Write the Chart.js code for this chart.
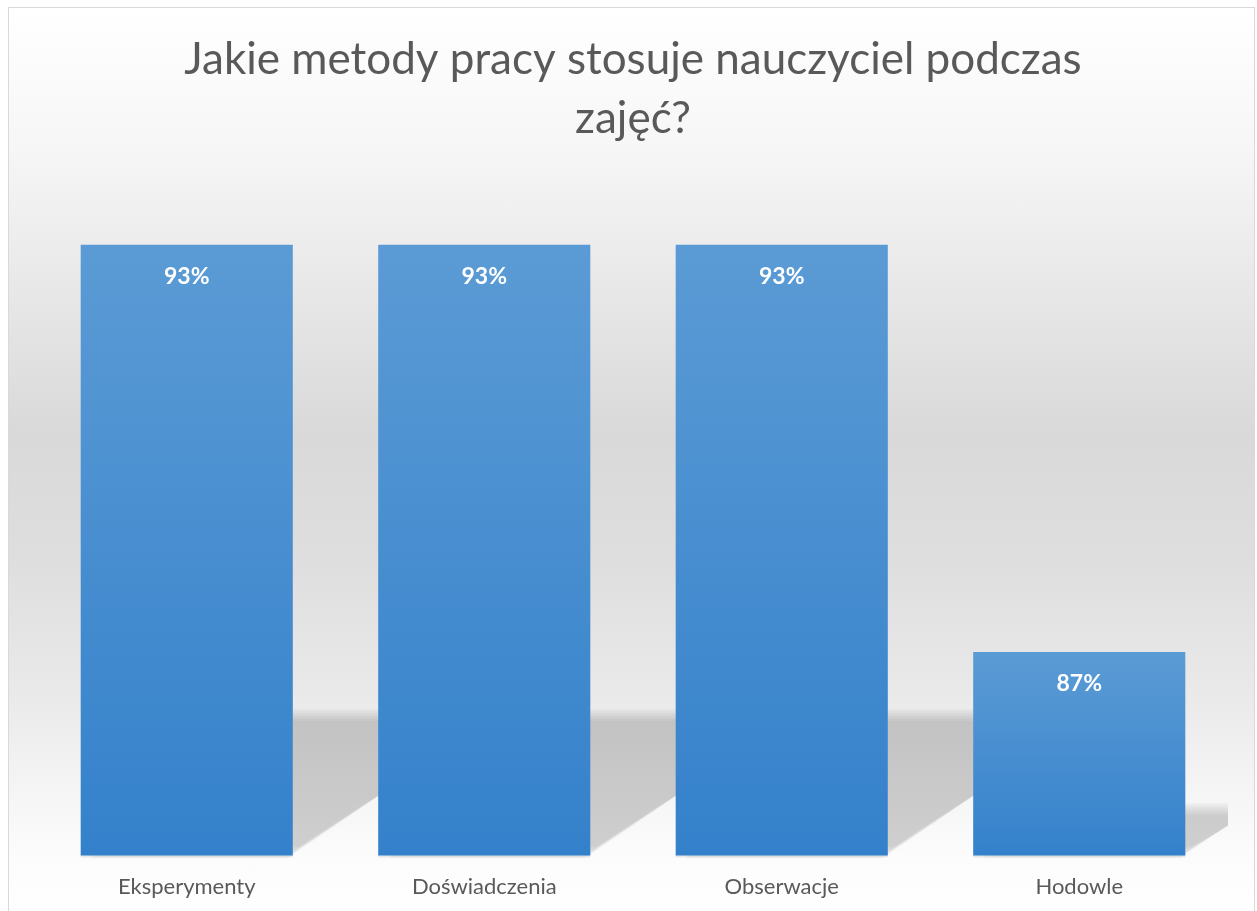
<!DOCTYPE html>
<html>
<head>
<meta charset="utf-8">
<script src="https://cdn.jsdelivr.net/npm/chart.js@4.4.1/dist/chart.umd.min.js"></script>
<style>
  html, body { margin: 0; padding: 0; overflow: hidden; width: 1257px; height: 911px; background: #ffffff; }
  #box {
    position: absolute; left: 8px; top: 7px; width: 1245px; height: 910px;
    border: 1px solid #d9d9d9;
    background: linear-gradient(to bottom,
      #ffffff 0px, #f6f6f6 142px, #d9d9d9 425px, #dedede 552px,
      #eaeaea 692px, #f6f6f6 792px, #fcfcfc 850px, #ffffff 910px);
  }
  #c { position: absolute; left: 0; top: 0; }
</style>
</head>
<body>
<div id="box"><canvas id="c" width="1245" height="910"></canvas></div>
<script>
const titleLines = ["Jakie metody pracy stosuje nauczyciel podczas", "zajęć?"];
const categories = ["Eksperymenty", "Doświadczenia", "Obserwacje", "Hodowle"];
const values = [93, 93, 93, 87];
const axisMin = 84;
const axisMax = 94;
const BAR_FRACTION = 0.713;

const FONT = "Lato, 'Open Sans', sans-serif";

function shadowPath(ctx, left, right, top, base, grow) {
  const sh = (base - top) * 0.23;
  const dx = sh * 1.47;
  ctx.beginPath();
  ctx.moveTo(left + 10, base - 3 + grow);
  ctx.lineTo(right - grow, base - 3 + grow);
  ctx.lineTo(right + dx + grow, base - sh - grow);
  ctx.lineTo(left + dx, base - sh - grow);
  ctx.closePath();
}

const overlayPlugin = {
  id: 'overlay',
  afterDatasetsDraw(chart) {
    const ctx = chart.ctx;
    const area = chart.chartArea;
    const xs = chart.scales.x, ys = chart.scales.y;
    const base = ys.getPixelForValue(axisMin);
    const bw = (area.right - area.left) / categories.length * BAR_FRACTION;
    ctx.save();
    ctx.globalCompositeOperation = 'destination-over';
    ctx.beginPath();
    ctx.rect(area.left, area.top, area.right - area.left, area.bottom - area.top + 8);
    ctx.clip();
    values.forEach((v, i) => {
      const cx = xs.getPixelForValue(i);
      const top = ys.getPixelForValue(v);
      const left = cx - bw / 2, right = cx + bw / 2;
      for (let g = 6; g >= -6; g -= 2) {
        ctx.fillStyle = 'rgba(0,0,0,0.027)';
        shadowPath(ctx, left, right, top, base, g);
        ctx.fill();
      }
      ctx.fillStyle = 'rgba(0,0,0,0.05)';
      ctx.fillRect(left, base - 2, bw, 4);
      ctx.fillRect(left, base - 2, bw, 3);
    });
    ctx.restore();
    // value labels
    ctx.save();
    ctx.fillStyle = '#ffffff';
    ctx.font = "bold 23px " + FONT;
    ctx.textAlign = 'center';
    ctx.textBaseline = 'middle';
    values.forEach((v, i) => {
      ctx.fillText(v + '%', xs.getPixelForValue(i), ys.getPixelForValue(v) + 32);
    });
    ctx.restore();
  }
};

function barGradient(context) {
  const chart = context.chart;
  const area = chart.chartArea;
  if (!area) return '#4a8fd1';
  const yScale = chart.scales.y;
  const v = context.raw;
  const top = yScale.getPixelForValue(v);
  const bottom = yScale.getPixelForValue(axisMin);
  const g = chart.ctx.createLinearGradient(0, top, 0, bottom);
  g.addColorStop(0, '#5b9bd5');
  g.addColorStop(1, '#3481cb');
  return g;
}

new Chart(document.getElementById('c'), {
  type: 'bar',
  data: {
    labels: categories,
    datasets: [{
      data: values,
      backgroundColor: barGradient,
      borderWidth: 0,
      categoryPercentage: BAR_FRACTION,
      barPercentage: 1.0
    }]
  },
  options: {
    responsive: false,
    animation: false,
    devicePixelRatio: 1,
    layout: { padding: { left: 29, right: 26, top: 0, bottom: 0 } },
    plugins: {
      legend: { display: false },
      tooltip: { enabled: false },
      title: {
        display: true,
        text: titleLines,
        color: '#595959',
        font: { family: FONT, size: 44, weight: 'normal', lineHeight: 1.34 },
        padding: { top: 22, bottom: 29 }
      }
    },
    scales: {
      x: {
        grid: { display: false, drawTicks: false },
        border: { display: false },
        ticks: { color: '#595959', font: { family: FONT, size: 22 }, padding: 18 }
      },
      y: {
        display: false,
        min: axisMin,
        max: axisMax
      }
    }
  },
  plugins: [overlayPlugin]
});
</script>
</body>
</html>
